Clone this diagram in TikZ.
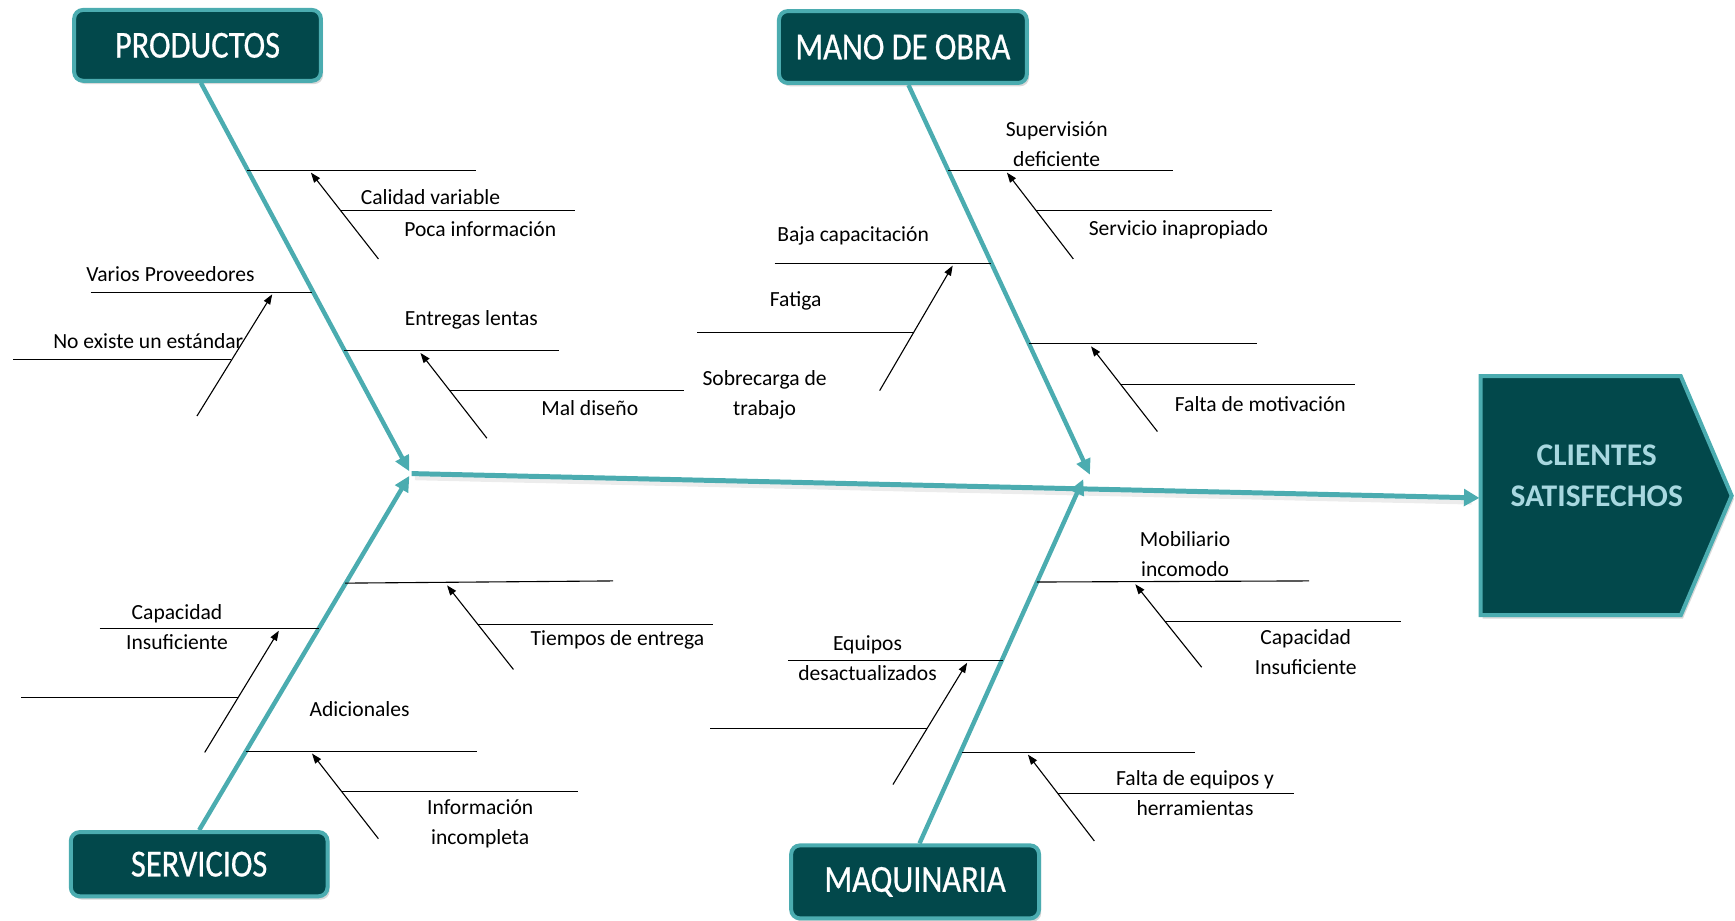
\documentclass[tikz,border=0pt]{standalone}
\usepackage{fontspec}
\setmainfont{Carlito}
\newfontfamily\boxfont[FakeStretch=0.85,FakeBold=0.6]{Carlito}
\usetikzlibrary{arrows.meta,shadows}
\definecolor{fishteal}{RGB}{75,172,176}
\definecolor{fishdark}{RGB}{2,72,75}
\definecolor{fishlight}{RGB}{168,216,224}
\tikzset{
  catbox/.style={draw=fishteal, line width=3.6pt, fill=fishdark, rounded corners=8pt,
    text=white, inner sep=0pt, font=\boxfont\fontsize{34.5}{34.5}\selectfont,
    drop shadow={opacity=0.3, shadow xshift=2pt, shadow yshift=-3pt}},
  bone/.style={fishteal, line width=4pt, -{Triangle[length=14pt,width=13pt]}},
  rib/.style={line width=1pt},
  cause/.style={line width=1pt, -{Triangle[length=9pt,width=6.5pt]}},
  lbl/.style={inner sep=0pt, align=center, font=\fontsize{19.5}{27}\selectfont},
}
\begin{document}
\begin{tikzpicture}[x=1pt,y=-1pt]
\useasboundingbox (0,0) rectangle (1568,832);
\node[catbox, minimum width=223pt, minimum height=64pt] (prod) at (178.5,41) {PRODUCTOS};
\node[catbox, minimum width=224pt, minimum height=65pt] (mano) at (816,42.5) {MANO DE OBRA};
\node[catbox, minimum width=232pt, minimum height=58pt] (serv) at (180,781) {SERVICIOS};
\node[catbox, minimum width=224pt, minimum height=66pt] (maqu) at (827,797) {MAQUINARIA};
\draw[draw=fishteal, line width=3.6pt, fill=fishdark,
  drop shadow={opacity=0.3, shadow xshift=2pt, shadow yshift=-3pt}]
  (1338,340) -- (1519,340) -- (1565,448) -- (1519,556) -- (1338,556) -- cycle;
\node[font=\bfseries\fontsize{28.5}{37}\selectfont, text=fishlight, align=center] (clientes)
  at (1443,430) {CLIENTES\\SATISFECHOS};
\coordinate (head) at (372,428);
\coordinate (goal) at (1337,450);
\coordinate (jp) at (370,426);
\coordinate (js) at (370,430);
\coordinate (jm) at (985,429);
\coordinate (jq) at (979,433);
% spine and main bones
\draw[gray, opacity=0.15, line width=4pt] (375,432) -- (1330,454);
\draw[bone, line width=4.5pt, -{Triangle[length=14pt,width=15pt]}] (head) -- (goal);
\draw[bone] ([xshift=3pt]prod.south) -- (jp);
\draw[bone] ([xshift=5pt]mano.south) -- (jm);
\draw[bone] (serv.north) -- (js);
\draw[bone] ([xshift=4pt]maqu.north) -- (jq);
% productos
\draw[rib] (223,154) -- (430,154);
\draw[cause] (342,234) -- (281,156);
\draw[rib] (308,190) -- (520,190);
\node[lbl] (calidad) at (389,178) {Calidad variable};
\node[lbl] (poca) at (434,207) {Poca información};
\draw[rib] (82,264) -- (282,264);
\draw[cause] (178,376) -- (246,266);
\draw[rib] (12,325) -- (209,325);
\node[lbl] (varios) at (154,248) {Varios Proveedores};
\node[lbl] (noexiste) at (134,308) {No existe un estándar};
\draw[rib] (311,317) -- (505,317);
\draw[cause] (440,396) -- (380,319);
\draw[rib] (407,353) -- (618,353);
\node[lbl] (entregas) at (426,289) {Entregas lentas};
\node[lbl] (maldiseno) at (533,369) {Mal diseño};
% mano de obra
\draw[rib] (857,154) -- (1060,154);
\draw[cause] (970,234) -- (910,156);
\draw[rib] (936,190) -- (1150,190);
\node[lbl] (superv) at (955,130) {Supervisión\\deficiente};
\node[lbl] (servicio) at (1065,208) {Servicio inapropiado};
\draw[rib] (700,238) -- (896,238);
\draw[cause] (795,353) -- (861,240);
\draw[rib] (630,300.4) -- (826,300.4);
\node[lbl] (baja) at (771,213) {Baja capacitación};
\node[lbl] (fatiga) at (719,272) {Fatiga};
\node[lbl] (sobrecarga) at (691,357) {Sobrecarga de\\trabajo};
\draw[rib] (930,310.4) -- (1136,310.4);
\draw[cause] (1046,390) -- (986,313);
\draw[rib] (1012,347.4) -- (1225,347.4);
\node[lbl] (motivacion) at (1139,365) {Falta de motivación};
% servicios
\draw[rib] (312,527) -- (554,525);
\draw[cause] (464,605) -- (404,529);
\draw[rib] (432,564) -- (644,564);
\node[lbl] (tiempos) at (558,578) {Tiempos de entrega};
\draw[rib] (90,568) -- (288,568);
\draw[cause] (185,680) -- (252,570);
\draw[rib] (19,630) -- (215,630);
\node[lbl] (capserv) at (160,566.5) {Capacidad\\Insuficiente};
\draw[rib] (222,679) -- (431,679);
\draw[cause] (342,758) -- (282,681);
\draw[rib] (309,715) -- (522,715);
\node[lbl] (adicionales) at (325,641) {Adicionales};
\node[lbl] (informacion) at (434,744.5) {Información\\incompleta};
% maquinaria
\draw[rib] (937,526) -- (1183,525);
\draw[cause] (1086,603) -- (1026,528);
\draw[rib] (1053,562) -- (1266,562);
\node[lbl] (mobiliario) at (1071,500.5) {Mobiliario\\incomodo};
\node[lbl] (capmaq) at (1180,589.5) {Capacidad\\Insuficiente};
\draw[rib] (712,597) -- (906,597);
\draw[cause] (807,709) -- (874,599);
\draw[rib] (642,658) -- (838,658);
\node[lbl] (equipos) at (784,595) {Equipos\\desactualizados};
\draw[rib] (869,680) -- (1080,680);
\draw[cause] (989,760) -- (929,682);
\draw[rib] (956,717) -- (1169,717);
\node[lbl] (faltaeq) at (1080,716.5) {Falta de equipos y\\herramientas};
\end{tikzpicture}
\end{document}
